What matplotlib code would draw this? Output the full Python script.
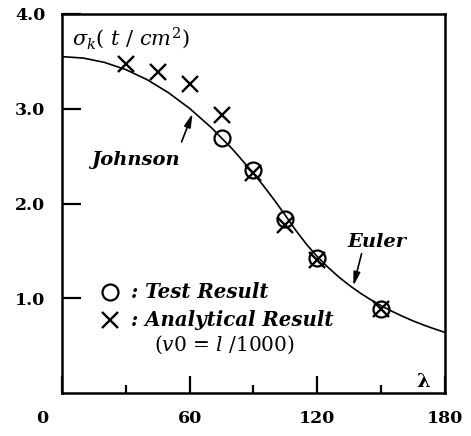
import matplotlib

matplotlib.use("Agg")
import matplotlib.pyplot as plt
from matplotlib.transforms import ScaledTranslation


# buckling strength curve (Johnson parabola up to the tangent point, Euler beyond)
curve_lambda = [0, 10, 20, 30, 40, 50, 60, 70, 80, 90, 95, 100, 105, 108,
                110, 115, 120, 125, 130, 135, 140, 145, 150, 155, 160, 165,
                170, 175, 180]
curve_sigma = [3.550, 3.535, 3.489, 3.413, 3.307, 3.170, 3.003, 2.805, 2.577,
               2.319, 2.178, 2.030, 1.874, 1.777, 1.713, 1.567, 1.439, 1.327,
               1.226, 1.137, 1.057, 0.986, 0.921, 0.863, 0.810, 0.761, 0.717,
               0.677, 0.640]

test_lambda = [75, 90, 105, 120, 150]
test_sigma = [2.69, 2.35, 1.84, 1.42, 0.89]

analytical_lambda = [30, 45, 60, 75, 90, 105, 120, 150]
analytical_sigma = [3.47, 3.39, 3.26, 2.93, 2.32, 1.77, 1.40, 0.89]

x_ticks = [0, 60, 120, 180]
x_minor_ticks = [30, 90, 150]
y_ticks = [1.0, 2.0, 3.0, 4.0]
y_tick_labels = ["1.0", "2.0", "3.0", "4.0"]

plt.rcParams["font.family"] = "DejaVu Serif"
plt.rcParams["mathtext.fontset"] = "custom"
plt.rcParams["mathtext.rm"] = "DejaVu Serif"
plt.rcParams["mathtext.it"] = "DejaVu Serif:italic"

fig = plt.figure(figsize=(4.71, 4.36), dpi=100)
ax = fig.add_axes([0.1316, 0.0986, 0.8132, 0.8693])

ax.plot(curve_lambda, curve_sigma, color="black", lw=1.2)
ax.plot(test_lambda, test_sigma, linestyle="none", marker="o", ms=11.5,
        mfc="none", mec="black", mew=1.6)
ax.plot(analytical_lambda, analytical_sigma, linestyle="none", marker="x",
        ms=11.5, mec="black", mew=1.7)

ax.set_xlim(0, 180)
ax.set_ylim(0, 4.0)
ax.set_xticks(x_ticks)
ax.set_xticks(x_minor_ticks, minor=True)
ax.set_yticks(y_ticks)
ax.set_yticklabels(y_tick_labels)
ax.tick_params(axis="both", which="major", direction="in", width=1.6,
               labelsize=12.5, top=False, right=False)
ax.tick_params(axis="x", which="major", length=12, pad=12)
ax.tick_params(axis="x", which="minor", direction="in", length=6, width=1.6)
ax.tick_params(axis="y", which="major", length=14, pad=12)
for label in ax.get_xticklabels() + ax.get_yticklabels():
    label.set_fontweight("bold")

# the origin label sits left of the corner
zero_label = ax.get_xticklabels()[0]
zero_label.set_transform(zero_label.get_transform()
                         + ScaledTranslation(-0.2, 0, fig.dpi_scale_trans))

for spine in ax.spines.values():
    spine.set_linewidth(1.8)

ax.text(0.026, 0.937, r"$\sigma_k$( $t$ / $cm^2$)", transform=ax.transAxes,
        fontsize=15, va="center", ha="left")
ax.text(0.943, 0.03, "λ", transform=ax.transAxes, fontsize=14,
        fontweight="bold", va="center", ha="center")

arrow_style = dict(arrowstyle="-|>,head_width=0.2,head_length=0.8",
                   color="black", lw=1.2, shrinkA=0, shrinkB=0)
ax.text(34.5, 2.46, "Johnson", fontsize=14, fontstyle="italic",
        fontweight="bold", ha="center", va="center")
ax.annotate("", xy=(61.4, 2.95), xytext=(56.2, 2.65), arrowprops=arrow_style)
ax.text(148, 1.59, "Euler", fontsize=14, fontstyle="italic",
        fontweight="bold", ha="center", va="center")
ax.annotate("", xy=(136.9, 1.13), xytext=(140.8, 1.47), arrowprops=arrow_style)

# legend drawn by hand
ax.plot([0.1253], [0.2665], transform=ax.transAxes, marker="o", ms=11.5,
        mfc="none", mec="black", mew=1.6, linestyle="none")
ax.plot([0.1253], [0.1926], transform=ax.transAxes, marker="x", ms=11.5,
        mec="black", mew=1.7, linestyle="none")
ax.text(0.180, 0.2665, ": Test Result", transform=ax.transAxes,
        fontsize=14.2, fontstyle="italic", fontweight="bold", va="center")
ax.text(0.180, 0.1926, ": Analytical Result", transform=ax.transAxes,
        fontsize=14.2, fontstyle="italic", fontweight="bold", va="center")
ax.text(0.240, 0.1266, r"($v0$ = $l$ /1000)", transform=ax.transAxes,
        fontsize=14.5, va="center")

fig.savefig("out.png", dpi=100)
